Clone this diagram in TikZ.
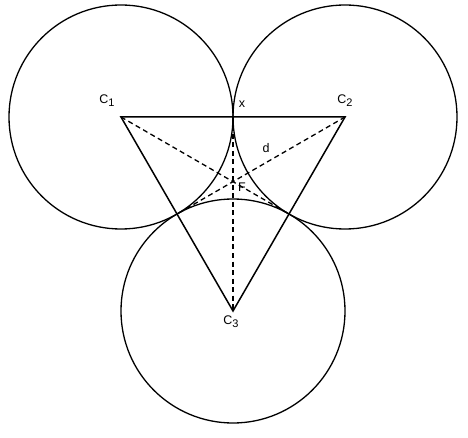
\documentclass[tikz,border=0pt]{standalone}
\usepackage{fontspec}
\setmainfont{Liberation Sans}
\usetikzlibrary{positioning, arrows.meta, calc}
\newcommand{\indice}[1]{\raisebox{-0.45ex}{\fontsize{11}{13}\selectfont #1}}

\begin{document}
\begin{tikzpicture}[x=1pt, y=-1pt, every node/.style={font=\fontsize{12.5}{15}\selectfont}]
  \tikzstyle{circulo} = [draw=black, line width=1.3pt]
  \tikzstyle{lado} = [draw=black, line width=1.5pt]
  \tikzstyle{mediana} = [draw=black, line width=1.3pt, dash pattern=on 5pt off 3.5pt]
  \tikzstyle{etiqueta} = [inner sep=1pt]

  \useasboundingbox (0,0) rectangle (468,438);

  % Centros
  \coordinate (c1) at (121,117);
  \coordinate (c2) at (345,117);
  \coordinate (c3) at (233,311);

  % Puntos de contacto y centroide
  \coordinate (x) at ($(c1)!0.5!(c2)$);
  \coordinate (t13) at ($(c1)!0.5!(c3)$);
  \coordinate (t23) at ($(c2)!0.5!(c3)$);
  \coordinate (f) at ($(c1)!2/3!(t23)$);

  % Circulos
  \foreach \c in {c1,c2,c3}
    \draw[circulo] (\c) circle (112);

  % Triangulo
  \draw[lado] (c1) -- (c2) -- (c3) -- cycle;

  % Medianas
  \draw[mediana] (c1) -- (t23);
  \draw[mediana] (c2) -- (t13);
  \draw[mediana] (x) -- (c3);

  % Etiquetas
  \node[etiqueta] (lc1) at (107,101) {C\indice{1}};
  \node[etiqueta] (lc2) at (345,101) {C\indice{2}};
  \node[etiqueta] (lc3) at (231,322) {C\indice{3}};
  \node[etiqueta] (lx) at (242,104) {x};
  \node[etiqueta] (ld) at (266,148) {d};
  \node[etiqueta] (lf) at (242,187) {F};
\end{tikzpicture}
\end{document}
